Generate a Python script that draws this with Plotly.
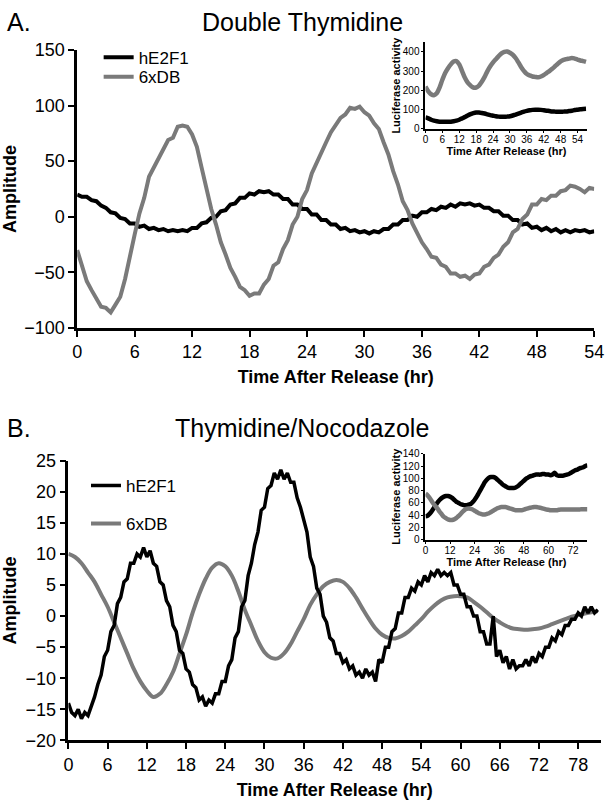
import plotly.graph_objects as go

# ---------------- Panel A (Double Thymidine), detrended amplitude, 0.5 h steps ----------------
A_E2F1 = [
    20, 18, 18, 15, 14, 10, 8, 4, 3, -1,
    -2, -6, -6, -9, -8, -11, -10, -12, -11, -13,
    -12, -13, -12, -13, -10, -10, -6, -5, -1, 0,
    5, 6, 11, 12, 17, 17, 21, 20, 23, 22,
    23, 20, 20, 16, 16, 11, 11, 7, 7, 2,
    2, -3, -3, -7, -7, -11, -10, -13, -12, -14,
    -13, -15, -13, -14, -11, -11, -7, -7, -3, -3,
    1, 0, 4, 4, 7, 6, 9, 8, 11, 9,
    12, 11, 12, 10, 11, 8, 8, 5, 5, 1,
    1, -3, -3, -7, -6, -10, -9, -12, -10, -13,
    -11, -14, -12, -14, -12, -13, -12, -14, -13,
]
A_6xDB = [
    -30, -45, -58, -66, -74, -81, -82, -86, -79, -72,
    -56, -34, -16, 3, 17, 36, 44, 53, 61, 69,
    71, 81, 82, 81, 74, 63, 44, 26, 7, -7,
    -23, -34, -46, -54, -63, -66, -71, -69, -69, -61,
    -56, -44, -41, -29, -21, -7, 0, 16, 24, 39,
    49, 59, 67, 76, 82, 89, 92, 98, 97, 99,
    94, 91, 84, 79, 67, 56, 41, 29, 14, 6,
    -6, -14, -23, -29, -36, -37, -43, -45, -51, -51,
    -54, -53, -56, -52, -51, -45, -43, -37, -34, -27,
    -23, -14, -11, -2, 2, 11, 11, 16, 15, 19,
    19, 23, 24, 28, 27, 25, 22, 26, 25,
]
A_time = [i * 0.5 for i in range(len(A_E2F1))]

# Panel A inset: raw luciferase activity, 1 h steps
A_in_6xDB = [
    220, 195, 180, 175, 185, 215, 255, 290, 315, 335,
    350, 352, 335, 300, 265, 240, 225, 215, 215, 225,
    245, 270, 300, 325, 345, 362, 378, 392, 400, 402,
    395, 385, 368, 345, 320, 300, 285, 278, 272, 270,
    268, 272, 280, 290, 300, 312, 325, 338, 350, 358,
    362, 365, 368, 365, 360, 355, 352, 348,
]
A_in_E2F1 = [
    60, 55, 48, 43, 40, 38, 37, 37, 37, 38,
    40, 43, 48, 55, 62, 70, 77, 82, 85, 85,
    83, 80, 76, 72, 69, 66, 64, 63, 63, 64,
    66, 70, 75, 80, 85, 90, 94, 97, 99, 100,
    100, 99, 97, 95, 93, 91, 90, 89, 89, 90,
    91, 93, 95, 98, 100, 102, 104, 105,
]
A_in_time = list(range(len(A_in_E2F1)))

# ---------------- Panel B (Thymidine/Nocodazole) ----------------
B_E2F1 = [
    -14, -15.5, -16, -15, -16.5, -15.5, -16, -14.5, -13, -11,
    -9.5, -6.5, -5.5, -2.5, -1.5, 2, 3, 5.5, 6, 8.5,
    8.5, 10, 9.5, 11, 9.5, 10.5, 8.5, 8, 5.5, 5,
    2.5, 1.5, -1.5, -2.5, -5.5, -6, -8.5, -9, -11, -11.5,
    -13.5, -13, -14.5, -13.5, -14, -12.5, -12.5, -10.5, -10.5, -8,
    -7, -3.5, -2.5, 1.5, 2.5, 6.5, 8.5, 11.5, 13.5, 17,
    17.5, 20.5, 21, 23, 22, 23.5, 22, 23, 21.5, 21.5,
    19, 17.5, 15.5, 13.5, 9.5, 8, 4.5, 3.5, 0, -1,
    -3.5, -4, -6, -6, -7.5, -7, -8.5, -8, -9.5, -9,
    -10, -8.5, -9.5, -9, -10.5, -7, -7.5, -5, -5, -2.5,
    -2, 0.5, 0.5, 3, 3, 4.5, 4, 5.5, 5, 6.5,
    5.5, 7, 6.5, 7.5, 6.5, 7, 6.5, 7, 5, 5,
    3.5, 3.5, 1.5, 1.5, 0, 0, -2.5, -2.5, -4.5, -4.5,
    0, -6.5, -5.5, -7.5, -6.5, -8.5, -7, -8.5, -8, -8,
    -7, -8, -6.5, -7.5, -6, -6.5, -5, -5, -3.5, -4,
    -2.5, -3, -1.5, -1.5, -0.5, -0.5, 0.5, 0, 1.5, 0.5,
    1.5, 0.5, 1,
]
B_time = [i * 0.5 for i in range(len(B_E2F1))]

B_6xDB = [
    10, 9.5, 8.5, 7, 5.5, 3.5, 1.5, -1, -3.5, -6,
    -8.5, -10.5, -12, -13, -12.5, -11, -9, -6, -3, 0.5,
    3.5, 6, 7.8, 8.5, 8, 6.5, 4, 1, -1.5, -4,
    -5.8, -6.7, -6.8, -6, -4.5, -2.5, -0.5, 1.8, 3.5, 4.8,
    5.5, 5.8, 5.5, 4.5, 3, 1.2, -0.5, -2, -3, -3.5,
    -3.6, -3.2, -2.5, -1.5, -0.5, 0.7, 1.7, 2.5, 3, 3.2,
    3.2, 3, 2.3, 1.5, 0.6, -0.3, -1, -1.6, -2, -2.1,
    -2.2, -2.1, -2, -1.7, -1.3, -0.9, -0.5, -0.1, 0.2, 0.4,
    0.6, 0.8,
]
B_6xDB_time = list(range(len(B_6xDB)))

B_in_E2F1 = [
    38, 39, 42, 46, 51, 56, 61, 65, 68, 70,
    71, 71, 70, 68, 65, 62, 60, 58, 57, 56,
    56, 57, 58, 61, 65, 70, 76, 82, 88, 94,
    98, 101, 102, 102, 101, 98, 95, 92, 89, 87,
    85, 84, 84, 84, 85, 87, 90, 93, 96, 99,
    101, 103, 104, 105, 106, 106, 106, 107, 107, 106,
    106, 105, 106, 109, 105, 104, 104, 104, 105, 106,
    107, 109, 111, 113, 114, 116, 117, 118, 120, 121,
]
B_in_6xDB = [
    75, 72, 68, 63, 58, 54, 50, 45, 41, 37,
    35, 33, 32, 32, 33, 35, 38, 41, 45, 48,
    50, 50.5, 50, 49, 47, 45, 43, 42, 41, 41,
    42, 43, 45, 47, 49, 51, 52, 53, 53, 53,
    52, 51, 50, 49, 48, 48, 48, 48, 49, 50,
    51, 52, 52.5, 53, 53, 52.5, 52, 51, 50, 49,
    48.5, 48, 48, 48, 48, 48.5, 49, 49, 49, 49,
    49, 49, 49, 49, 49, 49, 49.5, 49.5, 49.5, 49.5,
]
B_in_time = list(range(len(B_in_E2F1)))

A_main_ticks = [0, 6, 12, 18, 24, 30, 36, 42, 48, 54]
B_main_ticks = [0, 6, 12, 18, 24, 30, 36, 42, 48, 54, 60, 66, 72, 78]
A_in_ticks = [0, 6, 12, 18, 24, 30, 36, 42, 48, 54]
B_in_ticks = [0, 12, 24, 36, 48, 60, 72]

BLACK = "#000000"
GRAY = "#7a7a7a"
FONT = "Liberation Sans, Arial, sans-serif"
NARROW = "Liberation Sans Narrow, Liberation Sans, Arial, sans-serif"

W, H = 614, 809
def px(x):
    return x / W
def py(y):
    return 1 - y / H

fig = go.Figure()

# Panel A main
fig.add_trace(go.Scatter(x=A_time, y=A_E2F1, mode="lines", name="hE2F1",
                         line=dict(color=BLACK, width=4), xaxis="x", yaxis="y", legend="legend"))
fig.add_trace(go.Scatter(x=A_time, y=A_6xDB, mode="lines", name="6xDB",
                         line=dict(color=GRAY, width=4), xaxis="x", yaxis="y", legend="legend2"))
# Panel A inset
fig.add_trace(go.Scatter(x=A_in_time, y=A_in_6xDB, mode="lines", showlegend=False,
                         line=dict(color=GRAY, width=4.5, shape="spline"), xaxis="x2", yaxis="y2"))
fig.add_trace(go.Scatter(x=A_in_time, y=A_in_E2F1, mode="lines", showlegend=False,
                         line=dict(color=BLACK, width=4.5, shape="spline"), xaxis="x2", yaxis="y2"))
# Panel B main
fig.add_trace(go.Scatter(x=B_6xDB_time, y=B_6xDB, mode="lines", name="6xDB",
                         line=dict(color=GRAY, width=4, shape="spline"), xaxis="x3", yaxis="y3",
                         legend="legend4"))
fig.add_trace(go.Scatter(x=B_time, y=B_E2F1, mode="lines", name="hE2F1",
                         line=dict(color=BLACK, width=3.5), xaxis="x3", yaxis="y3",
                         legend="legend3"))
# Panel B inset
fig.add_trace(go.Scatter(x=B_in_time, y=B_in_E2F1, mode="lines", showlegend=False,
                         line=dict(color=BLACK, width=4.5, shape="spline"), xaxis="x4", yaxis="y4"))
fig.add_trace(go.Scatter(x=B_in_time, y=B_in_6xDB, mode="lines", showlegend=False,
                         line=dict(color=GRAY, width=4.5, shape="spline"), xaxis="x4", yaxis="y4"))

main_tick = dict(color=BLACK, size=18, family=FONT)
main_title_font = dict(color=BLACK, size=18, family=FONT, weight="bold")
in_tick = dict(color=BLACK, size=10, family=NARROW)
in_title_font = dict(color=BLACK, size=11, family=FONT, weight="bold")

def main_axis(**kw):
    d = dict(showline=True, linecolor=BLACK, linewidth=2.5, ticks="outside", ticklen=6,
             tickwidth=2, tickcolor=BLACK, showgrid=False, zeroline=False,
             tickfont=main_tick, fixedrange=True, ticklabeloverflow="allow")
    d.update(kw)
    return d

def in_axis(**kw):
    d = dict(showline=True, linecolor=BLACK, linewidth=2, ticks="outside", ticklen=2,
             tickwidth=1, tickcolor=BLACK, showgrid=False, zeroline=False,
             tickfont=in_tick, fixedrange=True, ticklabeloverflow="allow")
    d.update(kw)
    return d

def leg(x, y):
    return dict(x=px(x), y=py(y), xanchor="left", yanchor="middle", bgcolor="rgba(0,0,0,0)",
                font=dict(size=17, family=FONT, color=BLACK), itemwidth=30)

fig.update_layout(
    width=W, height=H,
    margin=dict(l=0, r=0, t=0, b=0),
    paper_bgcolor="white", plot_bgcolor="rgba(0,0,0,0)",
    font=dict(family=FONT, color=BLACK),
    # Panel A main
    xaxis=main_axis(domain=[px(74), px(604)], range=[0, 54], tickvals=A_main_ticks,
                    anchor="y",
                    title=dict(text="Time After Release (hr)", font=main_title_font, standoff=10)),
    yaxis=main_axis(domain=[py(326), py(41)], range=[-100, 150], tickvals=[-100, -50, 0, 50, 100, 150],
                    anchor="x",
                    title=dict(text="Amplitude", font=main_title_font, standoff=8)),
    # Panel A inset
    xaxis2=in_axis(domain=[px(431), px(597)], range=[0, 57.5], tickvals=A_in_ticks, anchor="y2",
                   ticklabelstandoff=-2,
                   title=dict(text="Time After Release (hr)", font=in_title_font, standoff=1)),
    yaxis2=in_axis(domain=[py(122), py(33)], range=[0, 450], tickvals=[0, 100, 200, 300, 400], anchor="x2",
                   ticklabelstandoff=0,
                   title=dict(text="Luciferase activity", font=in_title_font, standoff=0)),
    # Panel B main
    xaxis3=main_axis(domain=[px(65), px(611)], range=[0, 81.5], tickvals=B_main_ticks, anchor="y3",
                     title=dict(text="Time After Release (hr)", font=main_title_font, standoff=10)),
    yaxis3=main_axis(domain=[py(749), py(462)], range=[-20, 25], tickvals=[-20, -15, -10, -5, 0, 5, 10, 15, 20, 25],
                     anchor="x3",
                     title=dict(text="Amplitude", font=main_title_font, standoff=8)),
    # Panel B inset
    xaxis4=in_axis(domain=[px(431), px(597)], range=[0, 79], tickvals=B_in_ticks, anchor="y4",
                   ticklabelstandoff=-2,
                   title=dict(text="Time After Release (hr)", font=in_title_font, standoff=1)),
    yaxis4=in_axis(domain=[py(543), py(455)], range=[0, 140], tickvals=[0, 20, 40, 60, 80, 100, 120, 140],
                   anchor="x4", ticklabelstandoff=0,
                   title=dict(text="Luciferase activity", font=in_title_font, standoff=0)),
    legend=leg(96, 49),
    legend2=leg(96, 69),
    legend3=leg(83, 488),
    legend4=leg(83, 527),
    showlegend=True,
)

annots = [
    dict(text="A.", x=px(0), y=py(12), xanchor="left", yanchor="middle", size=25),
    dict(text="Double Thymidine", x=px(305), y=py(12), xanchor="center", yanchor="middle", size=25),
    dict(text="B.", x=px(0), y=py(429), xanchor="left", yanchor="middle", size=25),
    dict(text="Thymidine/Nocodazole", x=px(304), y=py(429), xanchor="center", yanchor="middle", size=25),
]
for a in annots:
    fig.add_annotation(text=a["text"], x=a["x"], y=a["y"], xref="paper", yref="paper",
                       xanchor=a["xanchor"], yanchor=a["yanchor"], showarrow=False,
                       font=dict(size=a["size"], family=FONT, color=BLACK))

fig.write_html("out.html", config=dict(displayModeBar=False),
               post_script="document.body.style.margin='0';document.body.style.padding='0';")
